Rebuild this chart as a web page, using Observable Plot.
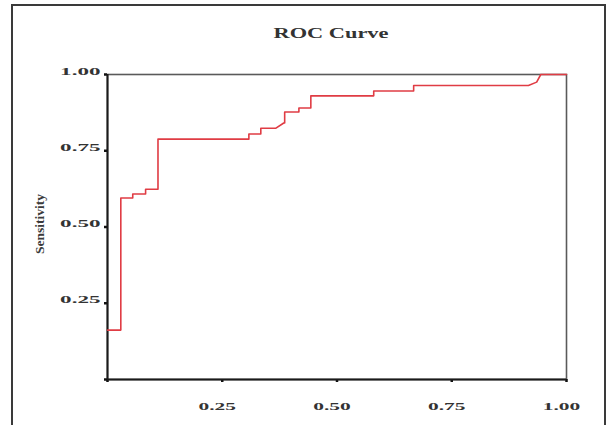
<!DOCTYPE html>
<html><head><meta charset="utf-8">
<script src="https://cdn.jsdelivr.net/npm/d3@7"></script>
<script src="https://cdn.jsdelivr.net/npm/@observablehq/plot@0.6"></script>
<style>
html,body{margin:0;padding:0;background:#fff;}
#wrap{position:relative;width:609px;height:425px;overflow:hidden;}
#wrap::before{content:"";position:absolute;left:11px;top:4px;width:591px;height:440px;border:2px solid #3a3a3a;pointer-events:none;}
#wrap svg{display:block;}
</style>
</head><body>
<div id="wrap"></div>
<script>
// ROC curve vertices (1 - specificity, sensitivity)
const fpr  = [0, 0.029, 0.029, 0.055, 0.055, 0.083, 0.083, 0.110, 0.110, 0.308, 0.308, 0.334, 0.334, 0.367, 0.384, 0.386, 0.386, 0.417, 0.417, 0.443, 0.443, 0.580, 0.580, 0.667, 0.667, 0.917, 0.935, 0.944, 1.0];
const sens = [0.162, 0.162, 0.595, 0.595, 0.608, 0.608, 0.624, 0.624, 0.788, 0.788, 0.805, 0.805, 0.824, 0.824, 0.841, 0.841, 0.877, 0.877, 0.890, 0.890, 0.930, 0.930, 0.946, 0.946, 0.964, 0.964, 0.975, 1.0, 1.0];
const xTicks = [0, 0.25, 0.5, 0.75, 1];
const yTicks = [0, 0.25, 0.5, 0.75, 1];
const title = "ROC Curve";
const yLabel = "Sensitivity";

const data = fpr.map((x, i) => ({x, y: sens[i]}));
const fmt = d => d === 0 ? "" : d3.format(".2f")(d);

const chart = Plot.plot({
  width: 609,
  height: 425,
  marginLeft: 107,
  marginRight: 43,
  marginTop: 74,
  marginBottom: 46,
  style: {fontFamily: "'Liberation Serif', serif", color: "#2a2a2a", background: "#fff"},
  x: {domain: [0, 1]},
  y: {domain: [0, 1]},
  marks: [
    Plot.frame({stroke: "#5a5a5a", strokeWidth: 1.6}),
    Plot.axisX({ticks: xTicks, tickFormat: fmt, tickSize: 3, tickPadding: 27, strokeWidth: 2.5, stroke: "#111", fontSize: 11, fontWeight: "bold", fill: "#333", label: null}),
    Plot.axisY({ticks: yTicks, tickFormat: fmt, tickSize: 3, tickPadding: 4, strokeWidth: 2.5, stroke: "#111", fontSize: 11, fontWeight: "bold", fill: "#333", label: null}),
    Plot.ruleY([0], {stroke: "#1a1a1a", strokeWidth: 2}),
    Plot.ruleX([0], {stroke: "#1a1a1a", strokeWidth: 2}),
    Plot.line(data, {x: "x", y: "y", stroke: "#e03c44", strokeWidth: 1.6}),
    Plot.text([title], {frameAnchor: "top", dy: -37, dx: -6, fontSize: 14, fontWeight: "bold", fill: "#333", className: "ttl"}),
    Plot.text([yLabel], {frameAnchor: "left", dx: -68, dy: 27, rotate: -90, fontSize: 13.5, fontWeight: "bold", fill: "#3a3a3a"})
  ]
});
document.getElementById("wrap").appendChild(chart);

function stretch(nodes, s, dx = 0) {
  nodes.each(function() {
    const t = this.getAttribute("transform");
    const x = (+this.getAttribute("x") || 0) + dx;
    const y = +this.getAttribute("y") || 0;
    this.removeAttribute("x");
    this.removeAttribute("y");
    this.setAttribute("transform", (t ? t + " " : "") + `translate(${x},${y}) scale(${s},1)`);
  });
}
const svg = d3.select(chart);
stretch(svg.selectAll('[aria-label="x-axis tick label"] text'), 1.95, -5);
stretch(svg.selectAll('[aria-label="y-axis tick label"] text'), 2.1);
stretch(svg.selectAll('.ttl text, text.ttl'), 1.6);
</script>
</body></html>
